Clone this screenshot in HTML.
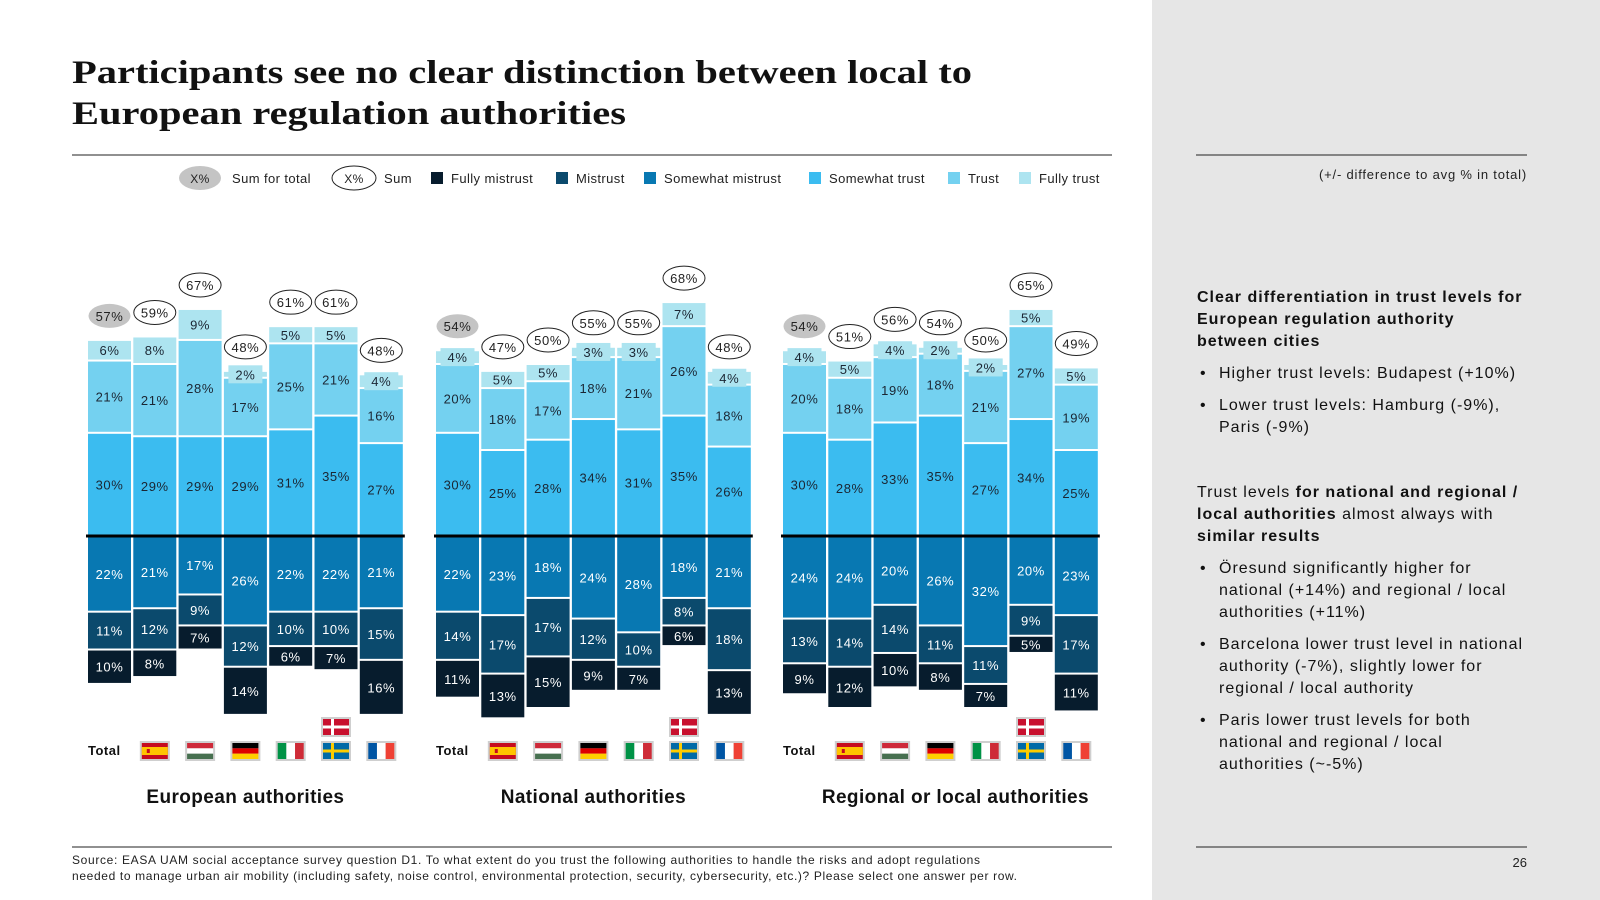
<!DOCTYPE html>
<html><head><meta charset="utf-8"><style>
html,body{margin:0;padding:0;background:#fff;}
body{width:1600px;height:900px;position:relative;overflow:hidden;font-family:"Liberation Sans",Arial,sans-serif;}
svg{position:absolute;left:0;top:0;}
</style></head><body>
<svg id="chart" width="1600" height="900" viewBox="0 0 1600 900" xmlns="http://www.w3.org/2000/svg">
<rect x="1152" y="0" width="448" height="900" fill="#e6e6e6"/>
<g font-family="Liberation Serif, serif" font-weight="bold" font-size="33" fill="#111">
<text x="72" y="83" textLength="900" lengthAdjust="spacingAndGlyphs">Participants see no clear distinction between local to</text>
<text x="72" y="124" textLength="554" lengthAdjust="spacingAndGlyphs">European regulation authorities</text>
</g>
<line x1="72" y1="155" x2="1112" y2="155" stroke="#222" stroke-width="1"/>
<g font-size="13" fill="#222" letter-spacing="0.4">
<ellipse cx="200" cy="178" rx="21" ry="12" fill="#c4c4c4"/>
<text x="200" y="183" text-anchor="middle" font-size="12">X%</text>
<text x="232" y="183">Sum for total</text>
<ellipse cx="354" cy="178" rx="22" ry="12" fill="#fff" stroke="#222"/>
<text x="354" y="183" text-anchor="middle" font-size="12">X%</text>
<text x="384" y="183">Sum</text>
<rect x="431" y="172" width="12" height="12" fill="#071c2d"/><text x="451" y="183">Fully mistrust</text>
<rect x="556" y="172" width="12" height="12" fill="#0b4a6d"/><text x="576" y="183">Mistrust</text>
<rect x="644" y="172" width="12" height="12" fill="#0878b2"/><text x="664" y="183">Somewhat mistrust</text>
<rect x="809" y="172" width="12" height="12" fill="#3bbcf0"/><text x="829" y="183">Somewhat trust</text>
<rect x="948" y="172" width="12" height="12" fill="#74d1f0"/><text x="968" y="183">Trust</text>
<rect x="1019" y="172" width="12" height="12" fill="#ade4f0"/><text x="1039" y="183">Fully trust</text>
</g>
<g id="panels"></g>
<line x1="72" y1="847" x2="1112" y2="847" stroke="#222"/>
<g font-size="12" fill="#222">
<text x="72" y="864" textLength="908" lengthAdjust="spacing">Source: EASA UAM social acceptance survey question D1. To what extent do you trust the following authorities to handle the risks and adopt regulations</text>
<text x="72" y="880" textLength="945" lengthAdjust="spacing">needed to manage urban air mobility (including safety, noise control, environmental protection, security, cybersecurity, etc.)? Please select one answer per row.</text>
</g>
<line x1="1196" y1="155" x2="1527" y2="155" stroke="#222"/>
<text x="1527" y="179" text-anchor="end" font-size="13" fill="#222" letter-spacing="0.8">(+/- difference to avg % in total)</text>
<g font-size="16" fill="#111" letter-spacing="1">
<g font-weight="bold"><text x="1197" y="302">Clear differentiation in trust levels for</text><text x="1197" y="324">European regulation authority</text><text x="1197" y="346">between cities</text></g>
<text x="1200" y="378">•</text><text x="1219" y="378">Higher trust levels: Budapest (+10%)</text>
<text x="1200" y="410">•</text><text x="1219" y="410">Lower trust levels: Hamburg (-9%),</text><text x="1219" y="432">Paris (-9%)</text>
<text x="1197" y="497">Trust levels <tspan font-weight="bold">for national and regional /</tspan></text>
<text x="1197" y="519"><tspan font-weight="bold">local authorities</tspan> almost always with</text>
<text x="1197" y="541" font-weight="bold">similar results</text>
<text x="1200" y="573">•</text><text x="1219" y="573">Öresund significantly higher for</text><text x="1219" y="595">national (+14%) and regional / local</text><text x="1219" y="617">authorities (+11%)</text>
<text x="1200" y="649">•</text><text x="1219" y="649">Barcelona lower trust level in national</text><text x="1219" y="671">authority (-7%), slightly lower for</text><text x="1219" y="693">regional / local authority</text>
<text x="1200" y="725">•</text><text x="1219" y="725">Paris lower trust levels for both</text><text x="1219" y="747">national and regional / local</text><text x="1219" y="769">authorities (~-5%)</text>
</g>
<line x1="1196" y1="847" x2="1527" y2="847" stroke="#222"/>
<text x="1527" y="867" text-anchor="end" font-size="13" fill="#222">26</text>
</svg>
<script>
// Data: order Total, Spain, Hungary, Germany, Italy, Sweden/Denmark, France
const categories = ["Total","Spain","Hungary","Germany","Italy","Sweden-Denmark","France"];
const panelTitles = ["European authorities","National authorities","Regional or local authorities"];
// Trust side: [somewhat trust, trust, fully trust]
const euTrust = [[30,21,6],[29,21,8],[29,28,9],[29,17,2],[31,25,5],[35,21,5],[27,16,4]];
const euMistrust = [[22,11,10],[21,12,8],[17,9,7],[26,12,14],[22,10,6],[22,10,7],[21,15,16]];
const euSums = [57,59,67,48,61,61,48];
const natTrust = [[30,20,4],[25,18,5],[28,17,5],[34,18,3],[31,21,3],[35,26,7],[26,18,4]];
const natMistrust = [[22,14,11],[23,17,13],[18,17,15],[24,12,9],[28,10,7],[18,8,6],[21,18,13]];
const natSums = [54,47,50,55,55,68,48];
const regTrust = [[30,20,4],[28,18,5],[33,19,4],[35,18,2],[27,21,2],[34,27,5],[25,19,5]];
const regMistrust = [[24,13,9],[24,14,12],[20,14,10],[26,11,8],[32,11,7],[20,9,5],[23,17,11]];
const regSums = [54,51,56,54,50,65,49];

const NS="http://www.w3.org/2000/svg";
const trustCols=["#3bbcf0","#74d1f0","#ade4f0"];
const mistCols=["#0878b2","#0b4a6d","#071c2d"];
const panelX=[88,436,783], pitch=45.3, bw=43, zeroY=536, k=3.44;
const titleShift=[0,0,15];
const yScale=v=>v*k;
function mk(tag,attrs,parent){const e=document.createElementNS(NS,tag);for(const a in attrs)e.setAttribute(a,attrs[a]);parent.appendChild(e);return e;}
const root=document.getElementById('panels');
const datasets=[[euTrust,euMistrust,euSums],[natTrust,natMistrust,natSums],[regTrust,regMistrust,regSums]];
function flag(g,type,cx,cy){
  const w=26,h=16,x=cx-w/2,y=cy-h/2;
  const f=mk('g',{},g);
  
  
  mk('rect',{x:x-2,y:y-2,width:w+4,height:h+4,fill:'#cfcfcf'},f);
  const R=(a,b,c,d,col)=>mk('rect',{x:a,y:b,width:c,height:d,fill:col},f);
  if(type==='Spain'){R(x,y,w,h,'#c60b1e');R(x,y+4,w,8,'#ffc400');R(x+5,y+6,3,4,'#c60b1e');}
  else if(type==='Hungary'){R(x,y,w,h/3,'#ce2939');R(x,y+h/3,w,h/3,'#fff');R(x,y+2*h/3,w,h/3,'#477050');}
  else if(type==='Germany'){R(x,y,w,h/3,'#000');R(x,y+h/3,w,h/3,'#dd0000');R(x,y+2*h/3,w,h/3,'#ffce00');}
  else if(type==='Italy'){R(x,y,w/3,h,'#009246');R(x+w/3,y,w/3,h,'#fff');R(x+2*w/3,y,w/3,h,'#ce2b37');}
  else if(type==='France'){R(x,y,w/3,h,'#0055a4');R(x+w/3,y,w/3,h,'#fff');R(x+2*w/3,y,w/3,h,'#ef4135');}
  else if(type==='Sweden'){R(x,y,w,h,'#006aa7');R(x+8,y,3,h,'#fecc00');R(x,y+6.5,w,3,'#fecc00');}
  else if(type==='Denmark'){R(x,y,w,h,'#c8102e');R(x+8,y,3,h,'#fff');R(x,y+6.5,w,3,'#fff');}
}
datasets.forEach((ds,p)=>{
  const [trust,mist,sums]=ds;
  const g=mk('g',{},root);
  
  
  const x0=panelX[p];
  categories.forEach((c,i)=>{
    const bx=x0+i*pitch, cx=bx+bw/2;
    const bg=mk('g',{},g);
    
    
    let acc=0;
    trust[i].forEach((v,j)=>{
      const y1=zeroY-yScale(acc+v), h=yScale(v);
      const r=mk('rect',{x:bx,y:y1+1,width:bw,height:Math.max(h-2,1),fill:trustCols[j]},bg);
      
      
      const cy=y1+h/2;
      if(h<14){const b=mk('rect',{x:cx-17,y:cy-9,width:34,height:18,fill:trustCols[j]},bg);}
      const t=mk('text',{x:cx,y:cy+5,'text-anchor':'middle','font-size':13,fill:'#1b2633','letter-spacing':'0.6'},bg);
      
      
      t.textContent=v+'%';
      acc+=v;
    });
    const top=zeroY-yScale(acc);
    acc=0;
    mist[i].forEach((v,j)=>{
      const y1=zeroY+yScale(acc), h=yScale(v);
      const r=mk('rect',{x:bx,y:y1+1,width:bw,height:Math.max(h-2,1),fill:mistCols[j]},bg);
      
      
      const t=mk('text',{x:cx,y:y1+h/2+5,'text-anchor':'middle','font-size':13,fill:'#fff','letter-spacing':'0.6'},bg);
      
      
      t.textContent=v+'%';
      acc+=v;
    });
    const ey=top-24;
    const e=mk('ellipse',{cx:cx,cy:ey,rx:21,ry:12,fill:i===0?'#c4c4c4':'#fff',stroke:i===0?'none':'#222'},bg);
    
    
    const st=mk('text',{x:cx,y:ey+5,'text-anchor':'middle','font-size':13,fill:'#222','letter-spacing':'0.6'},bg);
    
    
    st.textContent=sums[i]+'%';
    if(i===0){
      const tl=mk('text',{x:bx,y:755,'font-size':13,'font-weight':'bold',fill:'#111','letter-spacing':'0.5'},g);
      
      
      tl.textContent='Total';
    } else if(c==='Sweden-Denmark'){flag(g,'Sweden',cx,751);flag(g,'Denmark',cx,727);}
    else flag(g,c,cx,751);
  });
  const zl=mk('line',{x1:x0-2,y1:zeroY,x2:x0+6*pitch+bw+2,y2:zeroY,stroke:'#000','stroke-width':3},g);
  
  
  const tt=mk('text',{x:x0+3*pitch+bw/2+titleShift[p],y:803,'text-anchor':'middle','font-size':19,'font-weight':'bold',fill:'#111','letter-spacing':'0.4'},g);
  
  
  tt.textContent=panelTitles[p];
});
</script>
</body></html>
